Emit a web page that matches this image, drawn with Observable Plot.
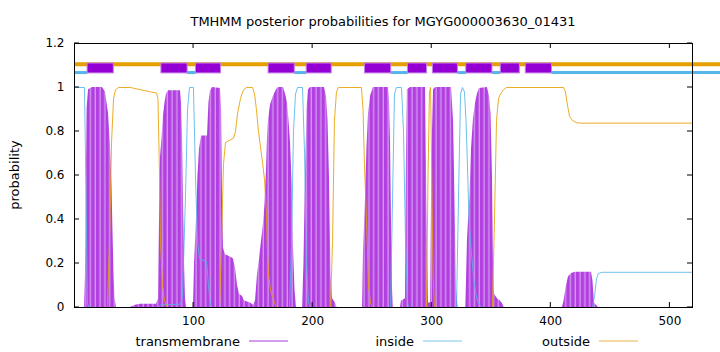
<!DOCTYPE html>
<html><head><meta charset="utf-8">
<script src="https://cdn.jsdelivr.net/npm/d3@7"></script>
<script src="https://cdn.jsdelivr.net/npm/@observablehq/plot@0.6"></script>
<style>
body{margin:0;background:#fff;}
#chart{width:720px;height:352px;}
svg text{font-family:"DejaVu Sans",sans-serif;}
</style></head><body><div id="chart"></div>
<script>
const titleText = "TMHMM posterior probabilities for MGYG000003630_01431";
const yLabel = "probability";
const xTicks = [100, 200, 300, 400, 500];
const yTicks = [0, 0.2, 0.4, 0.6, 0.8, 1, 1.2];
const seqDomain = [0, 519];
const probDomain = [0, 1.2];

// transmembrane posterior (residue, probability)
const tmPos = [0,8.4,9.2,10.5,11.8,15.1,23.5,26.0,27.3,28.6,30.2,31.5,32.3,33.2,34.0,35.3,
  47.0,51.2,55.4,68.9,70.5,71.4,72.2,73.9,74.7,76.0,77.3,78.9,89.0,89.9,90.7,91.5,92.4,93.2,94.1,
  99.9,100.8,102.5,103.7,105.0,106.7,111.7,112.9,114.2,115.9,122.6,123.5,124.3,125.1,126.8,131.0,133.5,135.2,136.9,138.6,141.1,142.8,147.8,150.3,
  152.0,153.7,155.4,157.0,158.7,160.0,161.2,162.1,162.9,164.6,167.1,169.6,171.3,175.5,177.2,178.9,180.1,181.4,182.7,183.9,185.2,186.4,
  191.5,192.7,194.0,195.3,196.5,198.2,209.9,211.6,212.9,214.1,215.4,216.7,219.2,220.4,
  241.9,242.7,244.4,245.6,246.9,248.6,251.1,263.7,264.5,265.4,266.2,267.1,267.9,
  273.8,274.6,278.0,278.8,279.6,282.2,294.8,296.0,297.3,299.0,300.2,301.5,303.2,316.6,318.3,319.1,320.0,320.8,322.1,
  328.4,329.2,330.0,330.9,332.1,333.4,335.1,336.8,338.4,340.1,346.8,348.5,349.8,351.0,351.9,352.7,355.2,357.7,360.3,361.1,
  409.8,411.1,413.2,414.9,417.4,420.7,434.2,435.4,436.7,440.0,519];
const tmProb = [0,0,0.14,0.9,0.99,1,1,0.98,0.93,0.88,0.74,0.55,0.35,0.15,0.04,0,
  0,0.01,0.015,0.015,0.04,0.4,0.68,0.8,0.87,0.93,0.97,0.985,0.985,0.93,0.78,0.5,0.2,0.04,0,
  0,0.2,0.4,0.6,0.72,0.78,0.78,0.93,0.985,1,0.995,0.9,0.5,0.27,0.24,0.23,0.22,0.18,0.1,0.06,0.05,0.03,0.02,0.01,
  0.03,0.15,0.22,0.3,0.38,0.47,0.62,0.77,0.85,0.92,0.96,0.99,1,1,0.97,0.93,0.85,0.75,0.58,0.27,0.08,0,
  0,0.2,0.6,0.9,0.99,1,1,0.96,0.85,0.6,0.15,0.04,0.02,0,
  0,0.25,0.5,0.72,0.88,0.96,1,1,0.94,0.75,0.4,0.08,0,
  0,0.03,0.04,0.7,0.99,1,1,0.45,0.02,0.02,0.7,0.99,1,1,0.85,0.62,0.35,0.08,0,
  0,0.12,0.3,0.4,0.5,0.72,0.86,0.93,0.97,0.995,1,0.96,0.88,0.6,0.2,0.06,0.04,0.03,0.01,0,
  0,0.03,0.1,0.14,0.155,0.16,0.16,0.12,0.02,0,0];

// inside posterior
const inPos = [0,8.4,9.7,10.9,11.8,70.5,72.2,89.0,90.7,93.2,94.9,96.6,99.9,101.6,103.3,105.0,110.9,112.5,114.2,115.9,
  180.6,182.3,183.9,185.6,187.3,191.5,193.2,194.8,196.5,198.2,
  265.4,267.1,268.7,270.4,274.6,276.3,278.0,279.6,280.5,
  320.8,322.5,324.2,325.8,327.5,328.8,330.0,331.3,333.0,335.1,336.8,338.4,341.0,342.6,
  435.0,436.7,438.4,440.0,443.4,519];
const inProb = [1,1,0.5,0.02,0,0,0.012,0.015,0.05,0.5,0.9,1,1,0.6,0.3,0.22,0.21,0.1,0.01,0,
  0,0.3,0.8,0.97,1,1,0.7,0.2,0.02,0,
  0,0.5,0.97,1,1,0.8,0.3,0.03,0,
  0,0.5,0.97,1,0.98,0.85,0.65,0.4,0.27,0.14,0.07,0.03,0.005,0,
  0,0.05,0.13,0.155,0.16,0.16];

// outside posterior
const outPos = [0,26.9,27.7,29.4,31.1,32.8,34.4,37.0,47.0,55.4,63.8,68.9,70.1,71.4,72.2,73.9,75.6,78.1,
  121.8,123.5,125.1,126.8,133.5,135.2,136.9,139.4,141.9,144.4,149.5,151.2,152.8,154.5,156.2,157.9,159.6,161.2,162.1,162.9,164.6,166.3,168.8,170.5,
  215.0,216.7,218.3,220.0,221.7,241.0,242.3,243.5,245.2,246.9,248.6,250.3,
  295.6,296.9,298.1,299.0,299.8,301.1,302.3,
  351.0,352.7,354.4,356.1,357.7,360.3,362.8,410.7,412.3,414.0,415.7,418.2,421.6,424.9,519];
const outProb = [0,0,0.01,0.3,0.75,0.95,0.99,1,1,0.99,0.98,0.975,0.95,0.6,0.3,0.1,0.03,0,
  0,0.3,0.65,0.75,0.77,0.8,0.88,0.95,0.99,1,1,0.97,0.9,0.8,0.73,0.66,0.58,0.42,0.25,0.15,0.08,0.05,0.01,0,
  0,0.3,0.85,0.98,1,1,0.9,0.65,0.4,0.1,0.02,0,
  0,0.6,0.98,1,0.7,0.15,0,
  0,0.4,0.85,0.95,0.97,0.99,1,1,0.98,0.92,0.87,0.85,0.84,0.838,0.838];

// predicted topology (top band)
const helixStart = [11, 73, 102, 163, 195, 244, 280, 301, 329, 358, 379];
const helixEnd   = [33, 95, 123, 185, 216, 266, 296, 322, 351, 374, 401];
const insideStart = [0, 95, 185, 266, 322, 351, 401];
const insideEnd   = [11, 102, 195, 280, 329, 358, 545];
const outsideStart = [0];
const outsideEnd   = [545];
const helixBand = [1.064, 1.109];
const insideLevel = 1.068;
const outsideLevel = 1.106;

const seriesNames = ["transmembrane", "inside", "outside"];
const colors = {transmembrane: "#9400d3", inside: "#56b4e9", outside: "#e69f00"};

const tm = tmPos.map((x, i) => ({x, y: tmProb[i]}));
const inside = inPos.map((x, i) => ({x, y: inProb[i]}));
const outside = outPos.map((x, i) => ({x, y: outProb[i]}));
const helices = helixStart.map((s, i) => ({x1: s, x2: helixEnd[i]}));
const insSegs = insideStart.map((s, i) => ({x1: s, x2: insideEnd[i]}));
const outSegs = outsideStart.map((s, i) => ({x1: s, x2: outsideEnd[i]}));

const W = 720, H = 352, mL = 74, mR = 28, mT = 43, mB = 45;

const plot = Plot.plot({
  width: W, height: H,
  marginLeft: mL, marginRight: mR, marginTop: mT, marginBottom: mB,
  style: {fontFamily: "DejaVu Sans, sans-serif", fontSize: "12px", background: "#fff", color: "#000"},
  x: {domain: seqDomain, label: null},
  y: {domain: probDomain, label: null},
  marks: [
    Plot.areaY(tm, {x: "x", y: "y", fill: "url(#tmStripes)"}),
    Plot.line(inside, {x: "x", y: "y", stroke: colors.inside, strokeWidth: 1, strokeOpacity: 0.85}),
    Plot.line(outside, {x: "x", y: "y", stroke: colors.outside, strokeWidth: 1, strokeOpacity: 0.85}),
    Plot.ruleY(outSegs, {x1: "x1", x2: "x2", y: outsideLevel, stroke: colors.outside, strokeWidth: 4}),
    Plot.ruleY(insSegs, {x1: "x1", x2: "x2", y: insideLevel, stroke: colors.inside, strokeWidth: 3}),
    Plot.rect(helices, {x1: "x1", x2: "x2", y1: helixBand[0], y2: helixBand[1], fill: colors.transmembrane, stroke: "#c47ee8", strokeWidth: 1}),
    Plot.frame({stroke: "#000", strokeWidth: 1}),
    Plot.axisX(xTicks, {tickSize: 0, tickPadding: 9, tickFormat: d => String(d)}),
    Plot.axisY(yTicks, {tickSize: 0, tickPadding: 10, tickFormat: d => String(d)})
  ]
});

document.getElementById("chart").appendChild(plot);
const svg = d3.select(plot);
// stripe pattern imitating dense impulses
const defs = svg.insert("defs", ":first-child");
const pat = defs.append("pattern").attr("id", "tmStripes").attr("patternUnits", "userSpaceOnUse")
  .attr("width", 4.8).attr("height", 10);
pat.append("rect").attr("width", 4.8).attr("height", 10).attr("fill", "#b23fe0");
pat.append("rect").attr("x", 3.4).attr("width", 1.4).attr("height", 10).attr("fill", "#d393f0");

const xs = plot.scale("x"), ys = plot.scale("y");
const g = svg.append("g").attr("stroke", "#000").attr("stroke-width", 1);
const x0 = xs.apply(seqDomain[0]), x1 = xs.apply(seqDomain[1]);
const y0 = ys.apply(probDomain[0]), y1 = ys.apply(probDomain[1]);
yTicks.forEach(t => {
  const y = ys.apply(t);
  g.append("line").attr("x1", x0).attr("x2", x0 + 5).attr("y1", y).attr("y2", y);
  g.append("line").attr("x1", x1).attr("x2", x1 - 5).attr("y1", y).attr("y2", y);
});
xTicks.forEach(t => {
  const x = xs.apply(t);
  g.append("line").attr("x1", x).attr("x2", x).attr("y1", y0).attr("y2", y0 - 5);
  g.append("line").attr("x1", x).attr("x2", x).attr("y1", y1).attr("y2", y1 + 5);
});
// title
svg.append("text").attr("x", (x0 + x1) / 2).attr("y", 26).attr("text-anchor", "middle")
  .attr("font-size", "13px").attr("fill", "#000").text(titleText);
// y label
svg.append("text").attr("transform", `translate(19,${(y0 + y1) / 2}) rotate(-90)`).attr("text-anchor", "middle")
  .attr("font-size", "13px").attr("fill", "#000").text(yLabel);
// legend
const legendColors = ["#a63fd9", "#7cc5ee", "#ebb347"];
const legendRight = [240, 414, 590];
seriesNames.forEach((name, i) => {
  svg.append("text").attr("x", legendRight[i]).attr("y", 346).attr("text-anchor", "end")
    .attr("font-size", "13px").attr("fill", "#000").text(name);
  svg.append("line").attr("x1", legendRight[i] + 9).attr("x2", legendRight[i] + 48)
    .attr("y1", 341).attr("y2", 341).attr("stroke", legendColors[i]).attr("stroke-width", 1);
});
</script></body></html>
